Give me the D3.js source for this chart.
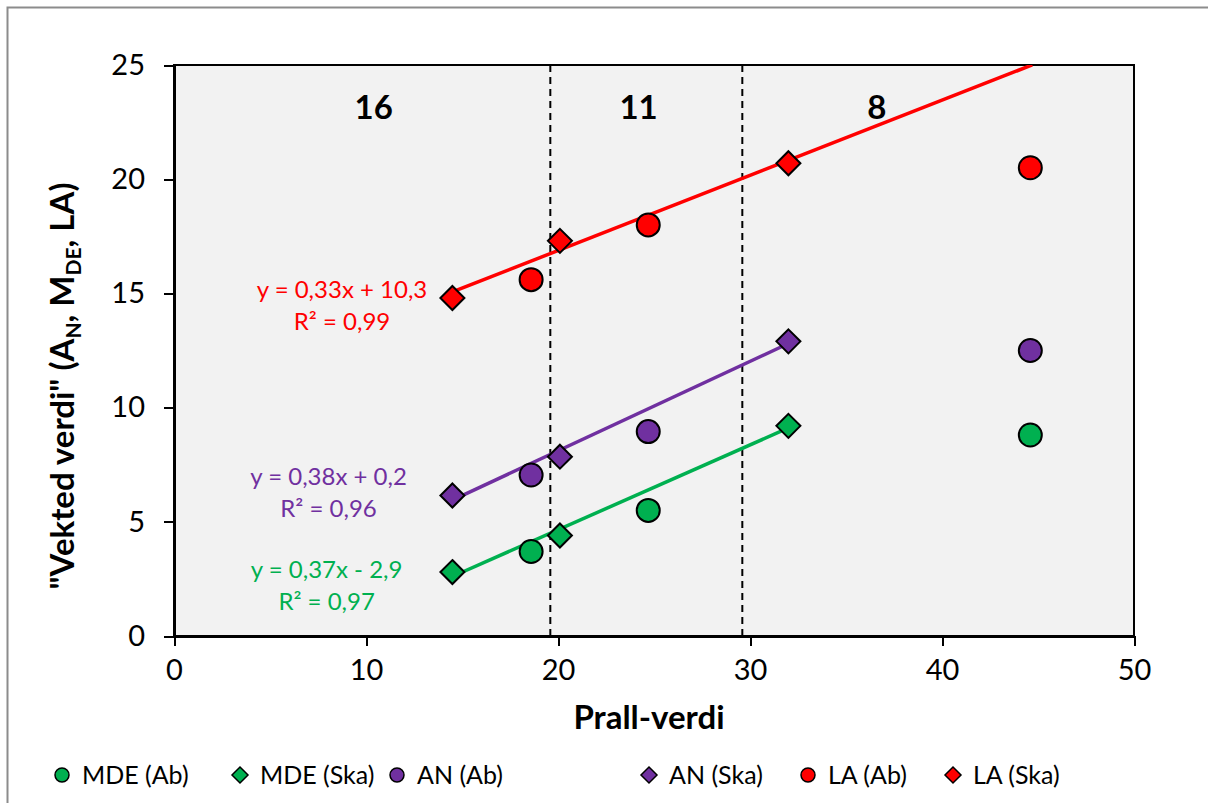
<!doctype html>
<html>
<head>
    <meta charset="utf-8">
    <title>Vekted verdi mot Prall-verdi</title>
    <style>
        body {
            margin: 0;
            background: #FFFFFF;
            overflow: hidden;
        }

        svg {
            display: block;
        }

        text {
            font-family: Lato, "Open Sans", sans-serif;
        }

        .axis path,
        .axis line {
            stroke: #000000;
            stroke-width: 2;
            shape-rendering: crispEdges;
        }

        .axis text {
            font-size: 29px;
            fill: #000000;
        }
    </style>
</head>
<body>
    <div id="chart"></div>

    <script src="https://cdn.jsdelivr.net/npm/d3@7/dist/d3.min.js"></script>
    <script>
        var svg_width = 1208;
        var svg_height = 803;

        var margin = {top: 65, right: 74, bottom: 167, left: 174};
        var width = 1134 - margin.left;
        var height = 636 - margin.top;

        // series data (Prall-verdi, vekted verdi)
        var x_ab = [18.6, 24.7, 44.6];
        var x_ska = [14.5, 20.1, 32.0];

        var mde_ab = [3.7, 5.5, 8.8];
        var mde_ska = [2.8, 4.4, 9.2];
        var an_ab = [7.05, 8.95, 12.5];
        var an_ska = [6.15, 7.85, 12.9];
        var la_ab = [15.6, 18.0, 20.5];
        var la_ska = [14.8, 17.3, 20.7];

        var series_names = ['MDE (Ab)', 'MDE (Ska)', 'AN (Ab)', 'AN (Ska)', 'LA (Ab)', 'LA (Ska)'];
        var series_colors = ['#00B050', '#00B050', '#7030A0', '#7030A0', '#FF0000', '#FF0000'];
        var series_shapes = ['circle', 'diamond', 'circle', 'diamond', 'circle', 'diamond'];
        var series_x = [x_ab, x_ska, x_ab, x_ska, x_ab, x_ska];
        var series_y = [mde_ab, mde_ska, an_ab, an_ska, la_ab, la_ska];

        // trendlines are fitted on the Ska series
        var trend_series = [1, 3, 5];
        var trend_forward = [0, 0, 12.7];
        var trend_labels = [
            ['y = 0,37x - 2,9', 'R² = 0,97'],
            ['y = 0,38x + 0,2', 'R² = 0,96'],
            ['y = 0,33x + 10,3', 'R² = 0,99']
        ];
        var trend_label_pos = [[7.95, 2.55], [8.05, 6.6], [8.75, 14.8]];

        // class boundaries and class labels
        var boundaries = [19.6, 29.6];
        var class_labels = ['16', '11', '8'];
        var class_label_x = [10.4, 24.2, 36.6];

        var x_ticks = [0, 10, 20, 30, 40, 50];
        var y_ticks = [0, 5, 10, 15, 20, 25];

        var x = d3.scaleLinear().domain([0, 50]).range([0, width]);
        var y = d3.scaleLinear().domain([0, 25]).range([height, 0]);

        var svg = d3.select('#chart').append('svg')
            .attr('width', svg_width)
            .attr('height', svg_height);

        // outer chart border (right and bottom fall outside the picture)
        svg.append('rect')
            .attr('x', 7.5)
            .attr('y', 7.5)
            .attr('width', 1220)
            .attr('height', 820)
            .attr('fill', '#FFFFFF')
            .attr('stroke', '#8C8C8C')
            .attr('stroke-width', 2);

        var g = svg.append('g')
            .attr('transform', 'translate(' + margin.left + ',' + margin.top + ')');

        g.append('rect')
            .attr('width', width)
            .attr('height', height)
            .attr('fill', '#F2F2F2')
            .attr('stroke', '#000000')
            .attr('stroke-width', 2);

        g.append('clipPath')
            .attr('id', 'plot-clip')
          .append('rect')
            .attr('width', width)
            .attr('height', height);

        // dashed class boundaries
        g.selectAll('line.boundary')
            .data(boundaries)
          .enter().append('line')
            .attr('class', 'boundary')
            .attr('x1', function(d) { return x(d); })
            .attr('x2', function(d) { return x(d); })
            .attr('y1', 0)
            .attr('y2', height)
            .attr('stroke', '#000000')
            .attr('stroke-width', 2)
            .attr('stroke-dasharray', '7,5');

        g.selectAll('text.class-label')
            .data(class_labels)
          .enter().append('text')
            .attr('class', 'class-label')
            .attr('x', function(d, i) { return x(class_label_x[i]); })
            .attr('y', y(23.15))
            .attr('dy', '0.36em')
            .attr('text-anchor', 'middle')
            .style('font-size', '33px')
            .style('font-weight', 'bold')
            .text(function(d) { return d; });

        // axes
        g.append('g')
            .attr('class', 'axis x-axis')
            .attr('transform', 'translate(0,' + height + ')')
            .call(d3.axisBottom(x).tickValues(x_ticks).tickSize(10).tickPadding(13).tickSizeOuter(0));

        g.append('g')
            .attr('class', 'axis y-axis')
            .call(d3.axisLeft(y).tickValues(y_ticks).tickSize(10).tickPadding(19).tickSizeOuter(0));

        // least squares fits
        function fit(xs, ys) {
            var mx = d3.mean(xs);
            var my = d3.mean(ys);
            var sxy = d3.sum(xs, function(v, i) { return (v - mx) * (ys[i] - my); });
            var sxx = d3.sum(xs, function(v) { return (v - mx) * (v - mx); });
            var slope = sxy / sxx;
            return {slope: slope, intercept: my - slope * mx};
        }

        var line = d3.line()
            .x(function(d) { return x(d[0]); })
            .y(function(d) { return y(d[1]); });

        trend_series.forEach(function(s, i) {
            var xs = series_x[s];
            var f = fit(xs, series_y[s]);
            var x0 = d3.min(xs);
            var x1 = d3.max(xs) + trend_forward[i];

            g.append('path')
                .datum([[x0, f.intercept + f.slope * x0], [x1, f.intercept + f.slope * x1]])
                .attr('d', line)
                .attr('clip-path', 'url(#plot-clip)')
                .attr('fill', 'none')
                .attr('stroke', series_colors[s])
                .attr('stroke-width', 3.5);

            var lx = x(trend_label_pos[i][0]);
            var lbl = g.append('text')
                .attr('x', lx)
                .attr('y', y(trend_label_pos[i][1]))
                .attr('text-anchor', 'middle')
                .style('font-size', '24px')
                .attr('fill', series_colors[s]);

            lbl.append('tspan')
                .attr('x', lx)
                .text(trend_labels[i][0]);

            lbl.append('tspan')
                .attr('x', lx)
                .attr('dy', 32)
                .text(trend_labels[i][1]);
        });

        function marker(sel, shape, r) {
            if (shape === 'circle') {
                sel.append('circle').attr('r', r);
            } else {
                sel.append('path').attr('d', 'M0,' + (-r) + 'L' + r + ',0L0,' + r + 'L' + (-r) + ',0Z');
            }
        }

        // points
        series_names.forEach(function(name, s) {
            var pts = g.selectAll('g.pt-' + s)
                .data(series_y[s])
              .enter().append('g')
                .attr('class', 'pt-' + s)
                .attr('transform', function(d, i) {
                    return 'translate(' + x(series_x[s][i]) + ',' + y(d) + ')';
                })
                .attr('fill', series_colors[s])
                .attr('stroke', '#000000')
                .attr('stroke-width', 2);

            pts.each(function() {
                marker(d3.select(this), series_shapes[s], series_shapes[s] === 'circle' ? 11.5 : 12);
            });
        });

        // axis titles
        svg.append('text')
            .attr('x', 649)
            .attr('y', 729)
            .attr('text-anchor', 'middle')
            .style('font-size', '33px')
            .style('font-weight', 'bold')
            .text('Prall-verdi');

        var ytitle = svg.append('text')
            .attr('transform', 'translate(74,386) rotate(-90)')
            .attr('text-anchor', 'middle')
            .style('font-size', '33px')
            .style('font-weight', 'bold');

        ytitle.append('tspan').text('"Vekted verdi" (A');
        ytitle.append('tspan').attr('dy', 7).style('font-size', '21px').text('N');
        ytitle.append('tspan').attr('dy', -7).text(', M');
        ytitle.append('tspan').attr('dy', 7).style('font-size', '21px').text('DE');
        ytitle.append('tspan').attr('dy', -7).text(', LA)');

        // legend
        var legend_x = [62, 240, 397, 649, 808, 953];

        var legend = svg.selectAll('g.legend-item')
            .data(series_names)
          .enter().append('g')
            .attr('class', 'legend-item')
            .attr('transform', function(d, i) {
                return 'translate(' + legend_x[i] + ',775)';
            });

        legend.each(function(d, i) {
            var item = d3.select(this);
            var m = item.append('g')
                .attr('fill', series_colors[i])
                .attr('stroke', '#000000')
                .attr('stroke-width', 1.5);

            marker(m, series_shapes[i], series_shapes[i] === 'circle' ? 7 : 8);

            item.append('text')
                .attr('x', 20)
                .attr('dy', '0.36em')
                .style('font-size', '25px')
                .text(d);
        });
    </script>
</body>
</html>
